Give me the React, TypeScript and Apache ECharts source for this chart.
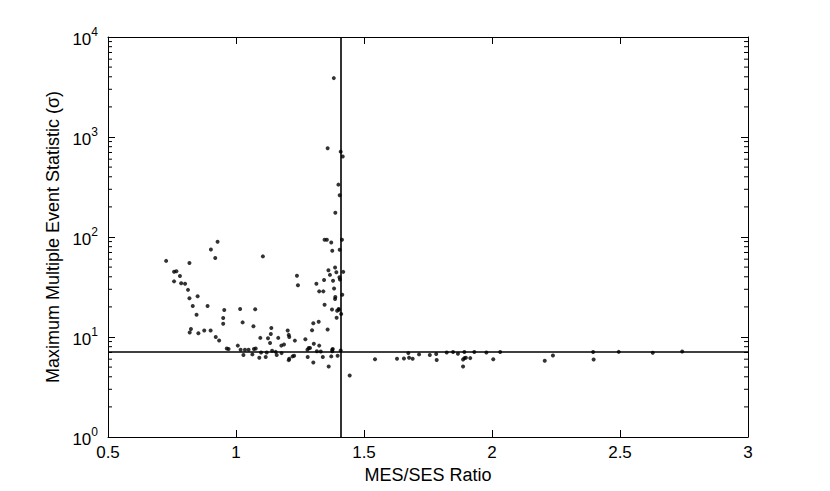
import React, { useEffect, useRef } from "react";
import * as echarts from "echarts";

// MES/SES ratio (x) and Maximum Multiple Event Statistic (y) for each candidate
const ratio = [
  0.727, 0.758, 0.767, 0.758, 0.781, 0.786, 0.801, 0.8125, 0.818, 0.818,
  0.831, 0.846, 0.85, 0.819, 0.824, 0.853, 0.876, 0.889, 0.901, 0.902,
  0.919, 0.928, 0.921, 0.934, 0.954, 0.95, 0.95, 0.964, 0.971, 1.007,
  1.016, 1.026, 1.018, 1.029, 1.035, 1.049, 1.064, 1.068, 1.075, 1.07,
  1.077, 1.091, 1.095, 1.098, 1.105, 1.116, 1.12, 1.125, 1.133, 1.136,
  1.138, 1.141, 1.155, 1.159, 1.165, 1.177, 1.178, 1.1875, 1.202, 1.206,
  1.208, 1.208, 1.206, 1.221, 1.227, 1.23, 1.238, 1.242, 1.271, 1.279,
  1.284, 1.289, 1.28, 1.297, 1.302, 1.302, 1.304, 1.314, 1.316, 1.323,
  1.325, 1.325, 1.331, 1.339, 1.341, 1.344, 1.346, 1.346, 1.355, 1.358,
  1.361, 1.362, 1.367, 1.372, 1.375, 1.376, 1.379, 1.383, 1.376, 1.376,
  1.372, 1.387, 1.387, 1.388, 1.392, 1.393, 1.401, 1.397, 1.404, 1.406,
  1.405, 1.411, 1.414, 1.415, 1.419, 1.409, 1.378, 1.395, 1.402,
  1.382, 1.358, 1.409, 1.417, 1.4, 1.405, 1.388, 1.444,
  1.543, 1.629, 1.656, 1.673, 1.676, 1.69, 1.715, 1.757, 1.782, 1.784,
  1.823, 1.848, 1.867, 1.887, 1.887, 1.892, 1.898, 1.892, 1.915, 1.931,
  1.978, 2.005, 2.032, 2.206, 2.238, 2.395, 2.397, 2.495, 2.628, 2.743,
];
const mes = [
  57.7, 45, 45.5, 36, 40.8, 34.4, 34, 29.6, 24.4, 55,
  20.4, 16.7, 25.5, 11.1, 12, 10.9, 11.6, 20.4, 11.6, 75,
  61.8, 89.5, 10, 9.24, 18.6, 15.5, 13.6, 7.68, 7.57, 8.2,
  19.1, 14, 7.45, 6.6, 7.45, 7.45, 6.7, 12.8, 18.9, 7.57,
  7.68, 6.2, 9.8, 7.0, 64, 6.3, 7.0, 9.7, 8.7, 10.7,
  12.3, 7.3, 7.1, 6.6, 9.8, 8.2, 6.9, 8.4, 11.6, 10.5,
  10.0, 6.05, 5.87, 6.4, 6.5, 9.2, 41, 32.9, 9.5, 7.45,
  7.75, 7.75, 6.3, 11.7, 13.7, 5.56, 8.55, 34, 7.2, 14.2,
  28.6, 8.2, 7.16, 6.3, 28.6, 37.2, 21, 93.7, 93.7, 11.9,
  46.5, 5.07, 41.8, 88, 18.8, 72.8, 36.6, 30.5, 7.45, 7.2,
  6.4, 49.5, 24, 25.1, 44.4, 15.6, 19.1, 6.5, 39.5, 37.5,
  74.5, 17, 93.7, 26.5, 44.8, 7.33, 7.6, 18.3, 18.7,
  3880, 771, 714, 637, 334, 261, 175, 4.12,
  6.0, 6.05, 6.1, 6.9, 6.2, 6.05, 6.7, 6.6, 6.75, 5.9,
  7.0, 7.07, 6.8, 5.07, 5.96, 6.15, 6.2, 7.07, 6.15, 7.07,
  7.0, 6.0, 7.07, 5.78, 6.53, 7.07, 5.96, 7.1, 6.95, 7.16,
];

const xMin = 0.5;
const xMax = 3;
const xStep = 0.5;
const yMin = 1;
const yMax = 10000;
const decadeStarts = [1, 10, 100, 1000];
const minorMultipliers = [2, 3, 4, 5, 6, 7, 8, 9];
const ratioThreshold = 1.414;
const mesThreshold = 7.1;

const FONT = "'Liberation Sans', Arial, Helvetica, sans-serif";

export default function App() {
  const ref = useRef<HTMLDivElement>(null);

  useEffect(() => {
    if (!ref.current) return;
    const chart = echarts.init(ref.current, undefined, { renderer: "svg" });

    const points = ratio.map((r, i) => [r, mes[i]]);
    const minorValues: number[][] = [];
    decadeStarts.forEach((d) =>
      minorMultipliers.forEach((m) => minorValues.push([xMin, d * m]))
    );

    const axisLineStyle = { color: "#000", width: 1 };

    chart.setOption({
      animation: false,
      backgroundColor: "#fff",
      grid: { left: 108, right: 82, top: 37, bottom: 54, containLabel: false },
      xAxis: [
        {
          type: "value",
          position: "bottom",
          min: xMin,
          max: xMax,
          interval: xStep,
          name: "MES/SES Ratio",
          nameLocation: "middle",
          nameGap: 25,
          nameTextStyle: {
            color: "#000",
            fontSize: 18,
            fontFamily: FONT,
            verticalAlign: "top",
          },
          axisLine: { show: true, onZero: false, lineStyle: axisLineStyle },
          axisTick: { show: true, inside: true, length: 7, lineStyle: axisLineStyle },
          axisLabel: {
            color: "#000",
            fontSize: 17,
            fontFamily: FONT,
            margin: 7,
            formatter: (v: number) => String(v),
          },
          splitLine: { show: false },
        },
        {
          type: "value",
          position: "top",
          min: xMin,
          max: xMax,
          interval: xStep,
          axisLine: { show: true, onZero: false, lineStyle: axisLineStyle },
          axisTick: { show: true, inside: true, length: 7, lineStyle: axisLineStyle },
          axisLabel: { show: false },
          splitLine: { show: false },
        },
      ],
      yAxis: [
        {
          type: "log",
          logBase: 10,
          position: "left",
          min: yMin,
          max: yMax,
          name: "Maximum Multiple Event Statistic (σ)",
          nameLocation: "middle",
          nameGap: 46,
          nameTextStyle: { color: "#000", fontSize: 18, fontFamily: FONT },
          axisLine: { show: true, onZero: false, lineStyle: axisLineStyle },
          axisTick: { show: true, inside: true, length: 7, lineStyle: axisLineStyle },
          axisLabel: {
            color: "#000",
            fontFamily: FONT,
            margin: 10,
            formatter: (v: number) => `{b|10}{s|${Math.round(Math.log10(v))}}`,
            rich: {
              b: { fontSize: 17, fontFamily: FONT, color: "#000", lineHeight: 22, verticalAlign: "bottom" },
              s: { fontSize: 12, fontFamily: FONT, color: "#000", lineHeight: 22, verticalAlign: "top", padding: [0, 0, 8, 0] },
            },
          },
          splitLine: { show: false },
        },
        {
          type: "log",
          logBase: 10,
          position: "right",
          min: yMin,
          max: yMax,
          axisLine: { show: true, onZero: false, lineStyle: axisLineStyle },
          axisTick: { show: true, inside: true, length: 7, lineStyle: axisLineStyle },
          axisLabel: { show: false },
          splitLine: { show: false },
        },
      ],
      series: [
        {
          type: "custom",
          xAxisIndex: 0,
          yAxisIndex: 0,
          silent: true,
          data: minorValues,
          renderItem: (params: any, api: any) => {
            const v = api.value(1);
            const l = api.coord([xMin, v]);
            const r = api.coord([xMax, v]);
            return {
              type: "group",
              children: [
                {
                  type: "line",
                  shape: { x1: l[0], y1: l[1], x2: l[0] + 4, y2: l[1] },
                  style: { stroke: "#000", lineWidth: 1 },
                },
                {
                  type: "line",
                  shape: { x1: r[0] - 4, y1: r[1], x2: r[0], y2: r[1] },
                  style: { stroke: "#000", lineWidth: 1 },
                },
              ],
            };
          },
        },
        {
          type: "scatter",
          xAxisIndex: 0,
          yAxisIndex: 0,
          data: points,
          symbol: "circle",
          symbolSize: 4,
          itemStyle: { color: "#000" },
          silent: true,
          markLine: {
            silent: true,
            symbol: ["none", "none"],
            label: { show: false },
            lineStyle: { color: "#000", width: 1.6, type: "solid" },
            data: [{ xAxis: ratioThreshold }, { yAxis: mesThreshold }],
          },
        },
      ],
    });

    return () => chart.dispose();
  }, []);

  return (
    <div
      ref={ref}
      style={{ position: "fixed", left: 0, top: 0, width: 830, height: 491, background: "#fff" }}
    />
  );
}
